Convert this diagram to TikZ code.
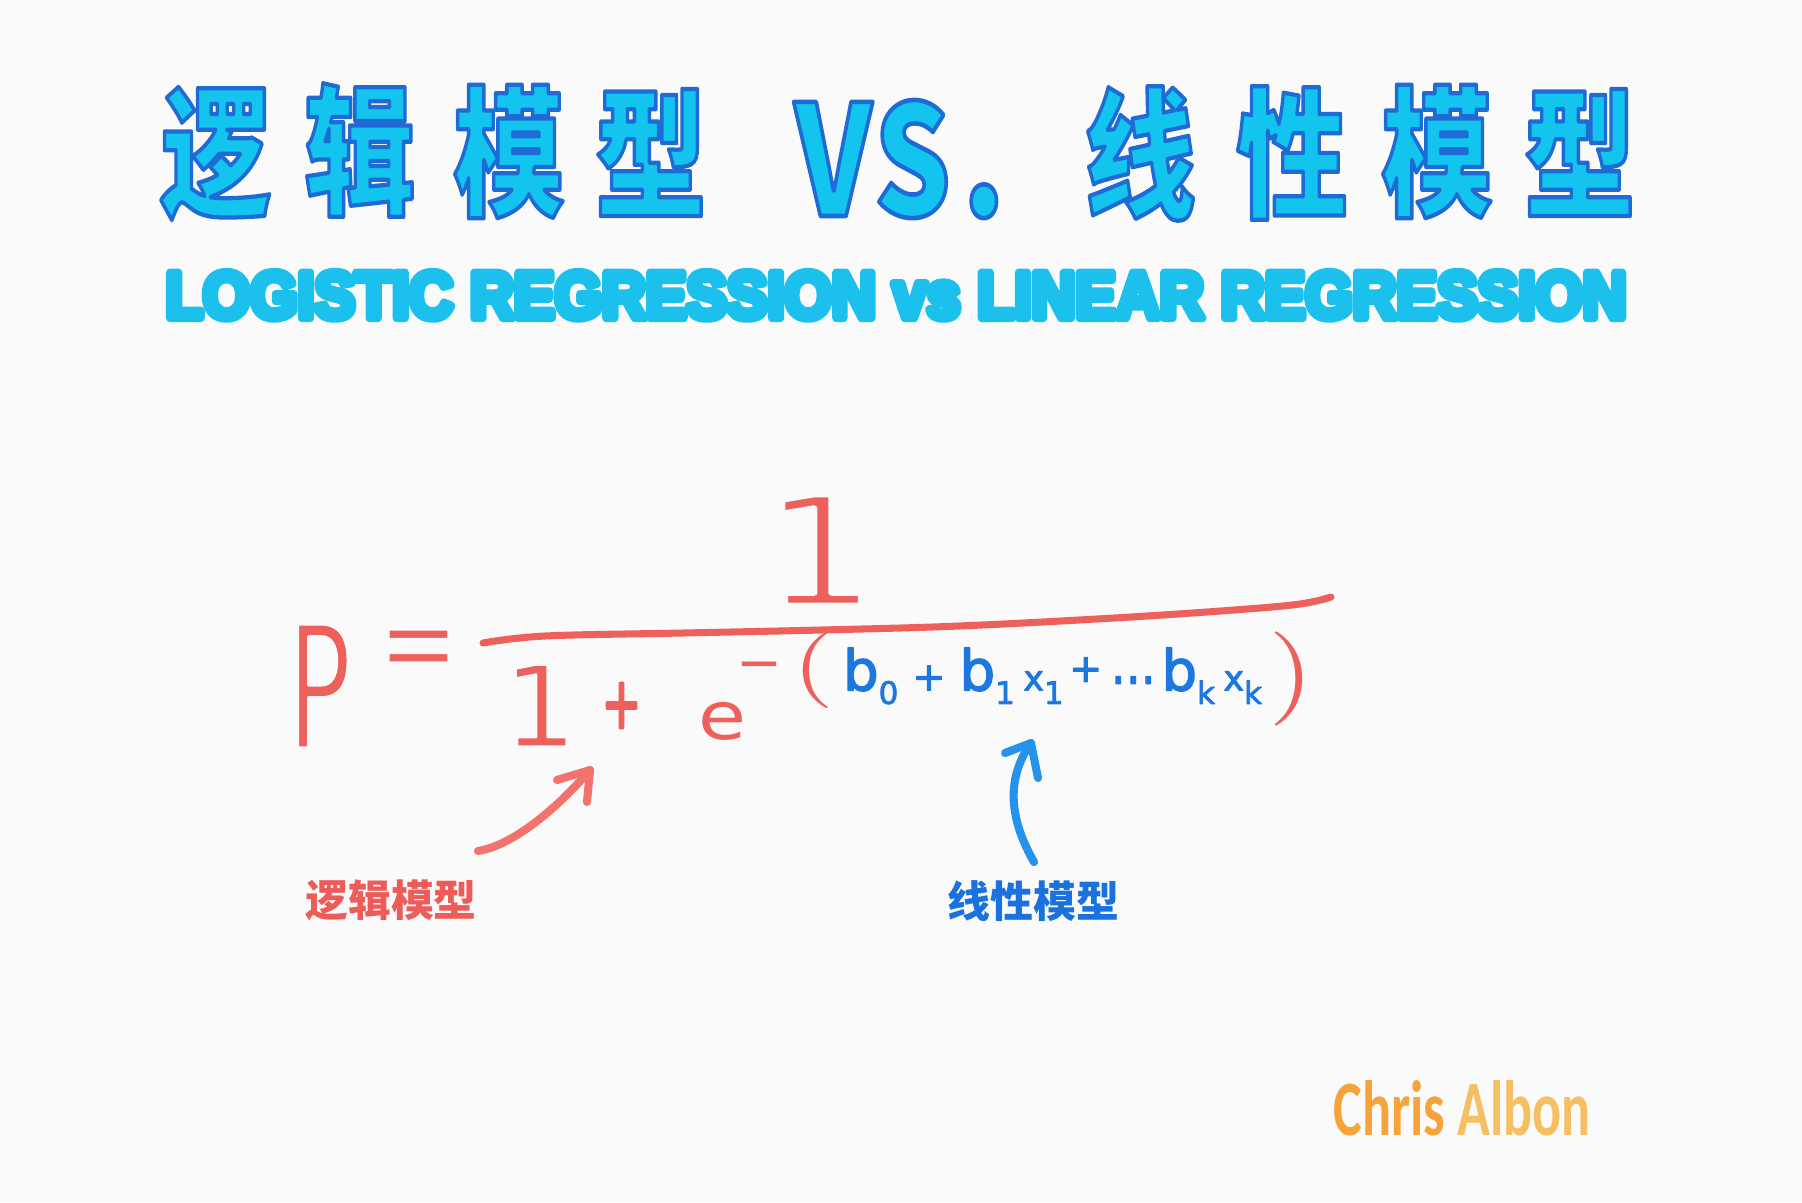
\documentclass[tikz,border=0pt]{standalone}
\usepackage{fontspec}
\usepackage{graphicx}
\newfontfamily\cjkf{Noto Sans CJK SC}
\newfontfamily\djv{DejaVu Sans}
\newfontfamily\lib{Liberation Sans}
\newfontfamily\carl{Carlito}
\definecolor{bgc}{HTML}{FAFAFB}
\definecolor{tcyan}{HTML}{13C4EF}
\definecolor{scyan}{HTML}{1BC1EC}
\definecolor{redF}{HTML}{EE605C}
\definecolor{redA}{HTML}{F2726E}
\definecolor{redL}{HTML}{EE5C5A}
\definecolor{blueF}{HTML}{1C77DE}
\definecolor{blueA}{HTML}{2593EB}
\definecolor{blueL}{HTML}{1A72DE}
\definecolor{orgA}{HTML}{F7A33C}
\definecolor{orgB}{HTML}{F5BF63}
\newcommand\fsz[1]{\fontsize{#1}{#1}\selectfont}
% text drawn with fill and a stroke of colour #1 (rgb) and width #2
\newcommand\trs[3]{{\special{pdf:literal direct #1 RG #2 w 1 j 2 Tr}#3\special{pdf:literal direct 0 Tr}}}
\newcommand\outl[1]{{\color{tcyan}\trs{0.118 0.420 0.835}{1.2}{#1}}}
\newcommand\erode[2]{\trs{0.980 0.980 0.984}{#1}{#2}}
\newcommand\sbs[1]{\raisebox{-0.24em}{\scalebox{0.55}{#1}}}
\tikzset{
  ttl/.style={inner sep=0pt, font=\cjkf\bfseries\fsz{40pt}},
  rf/.style={inner sep=0pt, text=redF, font=\djv\fsz{40pt}},
  harrow/.style={line width=2.3pt, line cap=round, line join=round},
}
\begin{document}
\begin{tikzpicture}[x=0.01cm,y=-0.01cm]
\fill[bgc] (0,0) rectangle (1802,1202);
\useasboundingbox (0,0) rectangle (1802,1202);
% title
\node[ttl] (t1) at (216,153.5) {\scalebox{0.79}[1]{\outl{逻}}};
\node[ttl] (t2) at (360,150) {\scalebox{0.79}[1]{\outl{辑}}};
\node[ttl] (t3) at (509,151.5) {\scalebox{0.79}[1]{\outl{模}}};
\node[ttl] (t4) at (651,152.5) {\scalebox{0.79}[1]{\outl{型}}};
\node[ttl, anchor=base west] (vs) at (794,216) {\resizebox{2.10cm}{1.16cm}{\outl{V\kern0.02em S\kern0.1em.}}};
\node[ttl] (t5) at (1140,153.5) {\scalebox{0.79}[1]{\outl{线}}};
\node[ttl] (t6) at (1292,153) {\scalebox{0.79}[1]{\outl{性}}};
\node[ttl] (t7) at (1437,151.5) {\scalebox{0.79}[1]{\outl{模}}};
\node[ttl] (t8) at (1580,152.5) {\scalebox{0.79}[1]{\outl{型}}};
% subtitle
\node[anchor=base west, inner sep=0pt, text=scyan, font=\lib\bfseries\fsz{21pt}] (sub) at (165,318)
  {\resizebox{14.60cm}{0.46cm}{\trs{0.106 0.757 0.925}{2.6}{LOGISTIC REGRESSION vs LINEAR REGRESSION}}};
% formula
\node[rf] (P) at (319.5,686) {\resizebox*{0.64cm}{1.25cm}{\erode{1.0}{P}}};
\node[rf, anchor=base] (eq) at (418.5,683) {\fsz{33.6pt}\scalebox{0.81}[1]{\erode{0.7}{=}}};
\node[rf] (num) at (820,550) {\resizebox*{1.16cm}{1.11cm}{\erode{1.5}{1}}};
\draw[redF, line width=2pt, line cap=round] plot[smooth, tension=0.6] coordinates
  {(483,643) (545,636) (683,633) (821,630) (959,626) (1114,618) (1234,610) (1300,604) (1331,597)};
\node[rf] (one) at (540,705.5) {\resizebox*{0.75cm}{0.82cm}{\erode{0.9}{1}}};
\node[rf] (plus) at (621.5,705.5) {\resizebox*{0.40cm}{0.45cm}{\trs{0.933 0.376 0.361}{1.5}{+}}};
\node[rf] (e) at (722.5,721) {\resizebox*{0.48cm}{0.38cm}{e}};
\node[rf, anchor=base] (minus) at (762,681) {\fsz{15.6pt}\hspace{-0.1em}−\hspace{-0.1em}};
\node[rf, font=\rmfamily] (lp) at (814,670) {\resizebox*{0.42cm}{0.76cm}{(}};
\node[rf, font=\rmfamily] (rp) at (1292,679) {\resizebox*{0.46cm}{0.94cm}{)}};
\node[inner sep=0pt, text=blueF, font=\djv\fsz{16pt}] (lin) at (1052.5,676)
  {\trs{0.110 0.467 0.871}{0.4}{b\sbs{0}\hspace{0.25em}\scalebox{0.7}{+}\hspace{0.25em}b\sbs{1}\hspace{0.15em}\scalebox{0.62}{x}\sbs{1}\hspace{0.1em}\raisebox{0.15em}{\scalebox{0.7}{+}}\hspace{0.15em}\raisebox{0.12em}{\scalebox{0.8}[1]{…}}\hspace{0.1em}b\sbs{k}\hspace{0.15em}\scalebox{0.62}{x}\sbs{k}}};
% labels
\node[inner sep=0pt, text=redL, font=\cjkf\bfseries\fsz{12.2pt}] (ll) at (391,900) {逻辑模型};
\node[inner sep=0pt, text=blueL, font=\cjkf\bfseries\fsz{12.2pt}] (bl) at (1033.5,901) {线性模型};
% arrows
\coordinate (rtail) at (478,851);
\coordinate (rtip) at (590,770);
\draw[harrow, redA] (rtail) .. controls (515,845) and (560,805) .. (rtip);
\draw[harrow, redA] (rtip) -- ++(-33,10) (rtip) -- ++(-3,32);
\coordinate (btail) at (1034,862);
\coordinate (btip) at (1031,743);
\draw[harrow, blueA] (btail) .. controls (1010,820) and (1005,780) .. (btip);
\draw[harrow, blueA] (btip) -- ++(-26,10) (btip) -- ++(7,35);
% signature
\node[anchor=base west, inner sep=0pt, font=\carl\bfseries] (sig) at (1333,1135)
  {\resizebox{2.57cm}{0.55cm}{\textcolor{orgA}{Chris} \textcolor{orgB}{Albon}}};
\end{tikzpicture}
\end{document}
